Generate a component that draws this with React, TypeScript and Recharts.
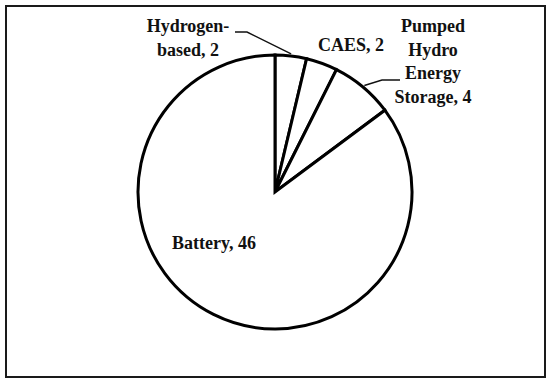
import React from 'react';
import { PieChart, Pie, Cell } from 'recharts';

// storage technology counts, clockwise from 12 o'clock
const categories = ['Hydrogen-based', 'CAES', 'Pumped Hydro Energy Storage', 'Battery'];
const counts = [2, 2, 4, 46];
// how each data label wraps (value is appended to the last line)
const labelWraps = [['Hydrogen-', 'based'], ['CAES'], ['Pumped', 'Hydro', 'Energy', 'Storage'], ['Battery']];

// manual label placement, offsets from the pie centre (like a hand-dragged Excel label)
const labelLayout: { dx: number; dy: number; leader?: number[][] }[] = [
  { dx: -87, dy: -160, leader: [[-28, -160], [-40, -160]] },
  { dx: 76, dy: -141 },
  { dx: 158, dy: -160, leader: [[107, -112], [125, -112]] },
  { dx: -61, dy: 57 },
];

const RADIAN = Math.PI / 180;
const LINE_H = 23.5;

const data = categories.map((name, i) => ({ name, value: counts[i] }));

const renderLabel = (props: any) => {
  const { cx, cy, midAngle, outerRadius, index, value } = props;
  const lay = labelLayout[index];
  const lines = labelWraps[index].slice();
  lines[lines.length - 1] = `${lines[lines.length - 1]}, ${value}`;
  let leader = null;
  if (lay.leader) {
    const r = outerRadius + 2;
    const sx = cx + r * Math.cos(-midAngle * RADIAN);
    const sy = cy + r * Math.sin(-midAngle * RADIAN);
    const pts = [[sx, sy], ...lay.leader.map(([x, y]) => [cx + x, cy + y])];
    leader = <polyline points={pts.map((p) => p.join(',')).join(' ')} fill="none" stroke="#111" strokeWidth={1.4} />;
  }
  return (
    <g key={`lbl-${index}`}>
      {leader}
      {lines.map((t, j) => (
        <text
          key={j}
          x={cx + lay.dx}
          y={cy + lay.dy + j * LINE_H}
          textAnchor="middle"
          fontFamily="'Liberation Serif', serif"
          fontWeight="bold"
          fontSize={18}
          fill="#111"
        >
          {t}
        </text>
      ))}
    </g>
  );
};

export default function App() {
  return (
    <div style={{ position: 'fixed', left: 0, top: 0, width: 550, height: 383, background: '#fff' }}>
      <div
        style={{
          position: 'absolute',
          left: 5,
          top: 5,
          width: 537,
          height: 369,
          border: '2px solid #1a1a1a',
        }}
      />
      <div style={{ position: 'absolute', left: 0, top: 0 }}>
        <PieChart width={550} height={383} margin={{ top: 0, right: 0, bottom: 0, left: 0 }}>
          <Pie
            data={data}
            dataKey="value"
            nameKey="name"
            cx={275}
            cy={192}
            outerRadius={137}
            startAngle={90}
            endAngle={-270}
            stroke="#000"
            strokeWidth={3}
            label={renderLabel}
            labelLine={false}
            isAnimationActive={false}
          >
            {data.map((d) => (
              <Cell key={d.name} fill="#fff" />
            ))}
          </Pie>
        </PieChart>
      </div>
    </div>
  );
}
